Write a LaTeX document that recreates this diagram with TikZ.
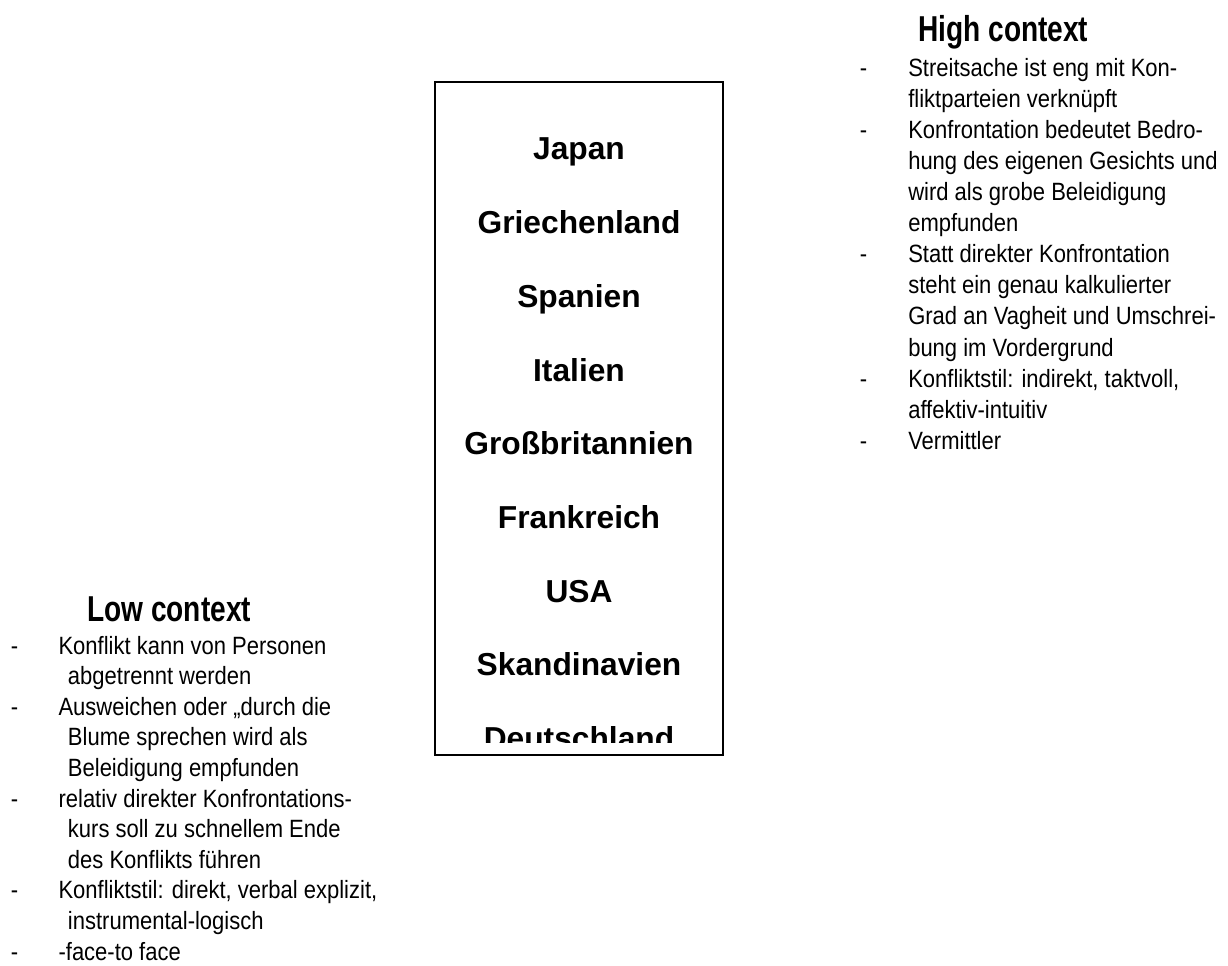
\documentclass[tikz,border=0pt]{standalone}
\usepackage{fontspec}
\setmainfont{Liberation Sans}
\newfontfamily\narrowfont[FakeStretch=0.88]{Liberation Sans}
\newfontfamily\headfont[FakeStretch=0.78]{Liberation Sans}
\tikzset{
  country/.style={anchor=base, inner sep=0pt, font=\fontsize{23.8}{28}\selectfont\bfseries},
  ctxhead/.style={anchor=base west, inner sep=0pt, font=\fontsize{27}{32}\headfont\bfseries},
  ctxline/.style={anchor=base west, inner sep=0pt, font=\fontsize{18.75}{23}\narrowfont}
}

\begin{document}
\begin{tikzpicture}[x=0.75pt, y=-0.75pt]
\useasboundingbox (0,0) rectangle (1228,966);
% Countries
    \draw[line width=1.1pt] (435,82) rectangle (723,755);
    \begin{scope}
    \clip (435,82) rectangle (723,742);
    \node[country] (japan) at (579,160) {Japan};
    \node[country] (griechenland) at (579,233.7) {Griechenland};
    \node[country] (spanien) at (579,307.4) {Spanien};
    \node[country] (italien) at (579,381.1) {Italien};
    \node[country] (gb) at (579,454.8) {Großbritannien};
    \node[country] (frankreich) at (579,528.5) {Frankreich};
    \node[country] (usa) at (579,602.2) {USA};
    \node[country] (skandinavien) at (579,675.9) {Skandinavien};
    \node[country] (deutschland) at (579,749.6) {Deutschland};
    \end{scope}
% High context
    \node[ctxhead] (hchead) at (918,41.7) {High context};
    \node[ctxline] (hcd1) at (859.5,77) {-};
    \node[ctxline] (hc1) at (908,77) {Streitsache ist eng mit Kon-};
    \node[ctxline] (hc2) at (908,108) {fliktparteien verknüpft};
    \node[ctxline] (hcd2) at (859.5,139) {-};
    \node[ctxline] (hc3) at (908,139) {Konfrontation bedeutet Bedro-};
    \node[ctxline] (hc4) at (908,170) {hung des eigenen Gesichts und};
    \node[ctxline] (hc5) at (908,201) {wird als grobe Beleidigung};
    \node[ctxline] (hc6) at (908,232) {empfunden};
    \node[ctxline] (hcd3) at (859.5,263) {-};
    \node[ctxline] (hc7) at (908,263) {Statt direkter Konfrontation};
    \node[ctxline] (hc8) at (908,294) {steht ein genau kalkulierter};
    \node[ctxline] (hc9) at (908,325) {Grad an Vagheit und Umschrei-};
    \node[ctxline] (hc10) at (908,356) {bung im Vordergrund};
    \node[ctxline] (hcd4) at (859.5,387) {-};
    \node[ctxline] (hc11) at (908,387) {Konfliktstil: indirekt, taktvoll,};
    \node[ctxline] (hc12) at (908,418) {affektiv-intuitiv};
    \node[ctxline] (hcd5) at (859.5,449) {-};
    \node[ctxline] (hc13) at (908,449) {Vermittler};
% Low context
    \node[ctxhead] (lchead) at (87,621.7) {Low context};
    \node[ctxline] (lcd1) at (10.5,654) {-};
    \node[ctxline] (lc1) at (58.3,654) {Konflikt kann von Personen};
    \node[ctxline] (lc2) at (67.7,684.6) {abgetrennt werden};
    \node[ctxline] (lcd2) at (10.5,715.2) {-};
    \node[ctxline] (lc3) at (58.3,715.2) {Ausweichen oder „durch die};
    \node[ctxline] (lc4) at (67.7,745.8) {Blume sprechen wird als};
    \node[ctxline] (lc5) at (67.7,776.4) {Beleidigung empfunden};
    \node[ctxline] (lcd3) at (10.5,807) {-};
    \node[ctxline] (lc6) at (58.3,807) {relativ direkter Konfrontations-};
    \node[ctxline] (lc7) at (67.7,837.6) {kurs soll zu schnellem Ende};
    \node[ctxline] (lc8) at (67.7,868.2) {des Konflikts führen};
    \node[ctxline] (lcd4) at (10.5,898.8) {-};
    \node[ctxline] (lc9) at (58.3,898.8) {Konfliktstil: direkt, verbal explizit,};
    \node[ctxline] (lc10) at (67.7,929.4) {instrumental-logisch};
    \node[ctxline] (lcd5) at (10.5,960) {-};
    \node[ctxline] (lc11) at (58.3,960) {-face-to face};
\end{tikzpicture}
\end{document}
